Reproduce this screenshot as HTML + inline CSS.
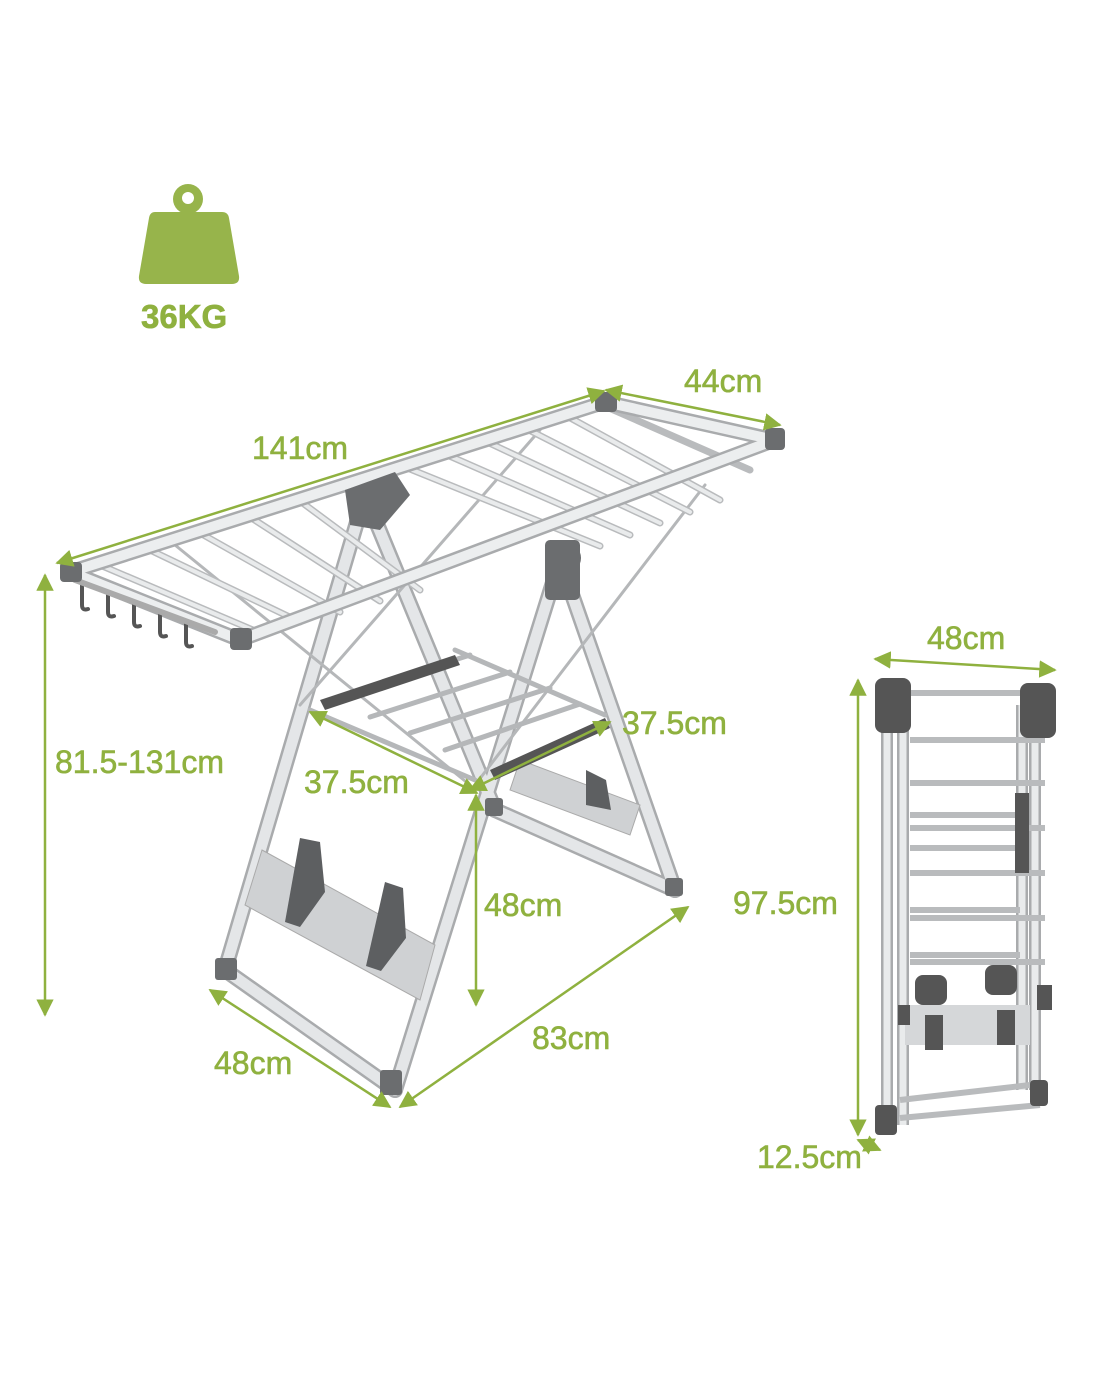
<!DOCTYPE html>
<html><head><meta charset="utf-8"><style>
html,body{margin:0;padding:0;background:#fff;}
svg{display:block;}
text{font-family:"Liberation Sans",sans-serif;fill:#8fb13f;font-size:32px;stroke:#8fb13f;stroke-width:0.6px;}
</style></head><body>
<svg width="1100" height="1375" viewBox="0 0 1100 1375" xmlns="http://www.w3.org/2000/svg">
<defs>
<marker id="a" viewBox="0 0 10 10" refX="9" refY="5" markerWidth="7" markerHeight="7" orient="auto-start-reverse"><path d="M0,0 L10,5 L0,10 z" fill="#8fb13f"/></marker>
</defs>
<g fill="#97b44b">
<circle cx="188" cy="199" r="15"/>
<path d="M155,212 H222 Q228,212 229,218 L239,276 Q240,284 232,284 H146 Q138,284 139,276 L149,218 Q150,212 155,212 Z"/>
</g>
<circle cx="188" cy="198" r="6" fill="#fff"/>
<text x="141" y="328" style="font-weight:bold;font-size:33px">36KG</text>

<g stroke-linecap="round">
<g stroke="#a9abad" stroke-width="16">
<line x1="560" y1="560" x2="395" y2="1090"/>
<line x1="560" y1="560" x2="675" y2="890"/>
<line x1="365" y1="495" x2="225" y2="970"/>
<line x1="365" y1="495" x2="495" y2="810"/>
<line x1="225" y1="970" x2="395" y2="1090"/>
<line x1="495" y1="810" x2="675" y2="890"/>
</g>
<g stroke="#e4e6e8" stroke-width="11">
<line x1="560" y1="560" x2="395" y2="1090"/>
<line x1="560" y1="560" x2="675" y2="890"/>
<line x1="365" y1="495" x2="225" y2="970"/>
<line x1="365" y1="495" x2="495" y2="810"/>
<line x1="225" y1="970" x2="395" y2="1090"/>
<line x1="495" y1="810" x2="675" y2="890"/>
</g>
<polygon points="262,850 435,945 420,1000 245,905" fill="#cfd1d3" stroke="#aaa"/>
<polygon points="520,760 640,805 630,835 510,790" fill="#cfd1d3" stroke="#aaa"/>
<g fill="#5d5f61">
<path d="M300,838 l20,4 l5,50 l-25,35 l-15,-5 z"/>
<path d="M385,882 l18,6 l3,50 l-25,33 l-15,-5 z"/>
<path d="M586,770 l20,10 l5,30 l-25,-5 z"/>
</g>
<g stroke="#b5b7b9" stroke-width="3">
<line x1="175" y1="545" x2="470" y2="785"/>
<line x1="475" y1="785" x2="705" y2="485"/>
<line x1="300" y1="705" x2="540" y2="430"/>
</g>
<g stroke="#b5b7b9" stroke-width="5">
<line x1="310" y1="710" x2="475" y2="780"/>
<line x1="455" y1="650" x2="605" y2="715"/>
<line x1="330" y1="700" x2="470" y2="655"/>
<line x1="370" y1="717" x2="510" y2="672"/>
<line x1="410" y1="733" x2="550" y2="688"/>
<line x1="445" y1="750" x2="580" y2="704"/>
</g>
<polygon points="320,700 455,655 460,665 325,710" fill="#555"/>
<polygon points="490,770 605,718 610,728 495,780" fill="#555"/>
<g stroke="#b9bbbd" stroke-width="7">
<line x1="100" y1="565" x2="260" y2="633"/>
<line x1="150" y1="550" x2="300" y2="622"/>
<line x1="200" y1="533" x2="340" y2="612"/>
<line x1="250" y1="517" x2="380" y2="601"/>
<line x1="300" y1="501" x2="420" y2="590"/>
<line x1="405" y1="467" x2="600" y2="546"/>
<line x1="445" y1="454" x2="630" y2="535"/>
<line x1="485" y1="441" x2="660" y2="523"/>
<line x1="525" y1="428" x2="690" y2="512"/>
<line x1="565" y1="415" x2="720" y2="500"/>
<line x1="600" y1="404" x2="750" y2="470"/>
</g>
<g stroke="#e9ebec" stroke-width="4">
<line x1="100" y1="565" x2="260" y2="633"/>
<line x1="150" y1="550" x2="300" y2="622"/>
<line x1="200" y1="533" x2="340" y2="612"/>
<line x1="250" y1="517" x2="380" y2="601"/>
<line x1="300" y1="501" x2="420" y2="590"/>
<line x1="405" y1="467" x2="600" y2="546"/>
<line x1="445" y1="454" x2="630" y2="535"/>
<line x1="485" y1="441" x2="660" y2="523"/>
<line x1="525" y1="428" x2="690" y2="512"/>
<line x1="565" y1="415" x2="720" y2="500"/>
</g>
<g stroke="#a9abad" stroke-width="15">
<line x1="70" y1="572" x2="605" y2="402"/>
<line x1="240" y1="640" x2="775" y2="440"/>
<line x1="70" y1="572" x2="240" y2="640"/>
<line x1="605" y1="402" x2="775" y2="440"/>
</g>
<g stroke="#eceeef" stroke-width="10">
<line x1="70" y1="572" x2="605" y2="402"/>
<line x1="240" y1="640" x2="775" y2="440"/>
<line x1="70" y1="572" x2="240" y2="640"/>
<line x1="605" y1="402" x2="775" y2="440"/>
</g>
<g stroke="#555" stroke-width="4" fill="none">
<path d="M82,585 v20 q0,6 6,4"/><path d="M108,592 v20 q0,6 6,4"/><path d="M134,602 v20 q0,6 6,4"/>
<path d="M160,612 v20 q0,6 6,4"/><path d="M186,622 v20 q0,6 6,4"/>
</g>
<line x1="75" y1="580" x2="215" y2="632" stroke="#aaa" stroke-width="6"/>
<g fill="#6b6d6f">
<rect x="60" y="562" width="22" height="20" rx="4"/>
<rect x="230" y="628" width="22" height="22" rx="4"/>
<rect x="595" y="392" width="22" height="20" rx="4"/>
<rect x="765" y="428" width="20" height="22" rx="4"/>
<polygon points="345,490 395,472 410,495 380,530 350,525"/>
<circle cx="565" cy="558" r="16"/>
<rect x="545" y="540" width="35" height="60" rx="5"/>
<rect x="215" y="958" width="22" height="22" rx="3"/>
<rect x="380" y="1070" width="22" height="25" rx="3"/>
<rect x="665" y="878" width="18" height="18" rx="3"/>
<rect x="485" y="798" width="18" height="18" rx="3"/>
</g>
</g>

<g>
<g stroke="#a9abad" stroke-width="12">
<line x1="887" y1="690" x2="887" y2="1125"/>
<line x1="903" y1="700" x2="903" y2="1125"/>
<line x1="1035" y1="700" x2="1035" y2="1090"/>
<line x1="1022" y1="705" x2="1022" y2="1090"/>
</g>
<g stroke="#e9ebec" stroke-width="7">
<line x1="887" y1="690" x2="887" y2="1125"/>
<line x1="903" y1="700" x2="903" y2="1125"/>
<line x1="1035" y1="700" x2="1035" y2="1090"/>
<line x1="1022" y1="705" x2="1022" y2="1090"/>
</g>
<g stroke="#b9bbbd" stroke-width="6">
<line x1="905" y1="693" x2="1030" y2="693"/>
<line x1="910" y1="740" x2="1045" y2="740"/>
<line x1="910" y1="783" x2="1045" y2="783"/>
<line x1="910" y1="815" x2="1025" y2="815"/>
<line x1="910" y1="828" x2="1045" y2="828"/>
<line x1="910" y1="848" x2="1025" y2="848"/>
<line x1="910" y1="873" x2="1045" y2="873"/>
<line x1="910" y1="910" x2="1020" y2="910"/>
<line x1="910" y1="918" x2="1045" y2="918"/>
<line x1="910" y1="955" x2="1020" y2="955"/>
<line x1="910" y1="962" x2="1045" y2="962"/>
<line x1="905" y1="1008" x2="1030" y2="1008"/>
<line x1="900" y1="1100" x2="1030" y2="1085"/>
<line x1="900" y1="1118" x2="1040" y2="1105"/>
</g>
<rect x="905" y="1005" width="125" height="40" fill="#d5d7d9"/>
<g fill="#555">
<rect x="1015" y="793" width="14" height="80"/>
<rect x="915" y="975" width="32" height="30" rx="8"/>
<rect x="985" y="965" width="32" height="30" rx="8"/>
<rect x="925" y="1015" width="18" height="35"/>
<rect x="997" y="1010" width="18" height="35"/>
<rect x="875" y="678" width="36" height="55" rx="8"/>
<rect x="1020" y="683" width="36" height="55" rx="8"/>
<rect x="875" y="1105" width="22" height="30" rx="4"/>
<rect x="1030" y="1080" width="18" height="26" rx="4"/>
<rect x="898" y="1005" width="12" height="20"/>
<rect x="1037" y="985" width="15" height="25"/>
</g>
</g>

<g stroke="#8fb13f" stroke-width="2.5" fill="none" marker-start="url(#a)" marker-end="url(#a)">
<line x1="57" y1="563" x2="604" y2="391"/>
<line x1="606" y1="390" x2="780" y2="425"/>
<line x1="45" y1="575" x2="45" y2="1015"/>
<line x1="310" y1="712" x2="477" y2="793"/>
<line x1="470" y1="790" x2="610" y2="722"/>
<line x1="476" y1="795" x2="476" y2="1005"/>
<line x1="210" y1="990" x2="390" y2="1107"/>
<line x1="400" y1="1107" x2="688" y2="907"/>
<line x1="875" y1="659" x2="1055" y2="670"/>
<line x1="858" y1="680" x2="858" y2="1135"/>
<line x1="858" y1="1140" x2="880" y2="1150"/>
</g>

<text x="252" y="459">141cm</text>
<text x="684" y="392">44cm</text>
<text x="55" y="773">81.5-131cm</text>
<text x="304" y="793">37.5cm</text>
<text x="622" y="734">37.5cm</text>
<text x="484" y="916">48cm</text>
<text x="214" y="1074">48cm</text>
<text x="532" y="1049">83cm</text>
<text x="927" y="649">48cm</text>
<text x="733" y="914">97.5cm</text>
<text x="757" y="1168">12.5cm</text>
</svg>
</body></html>
